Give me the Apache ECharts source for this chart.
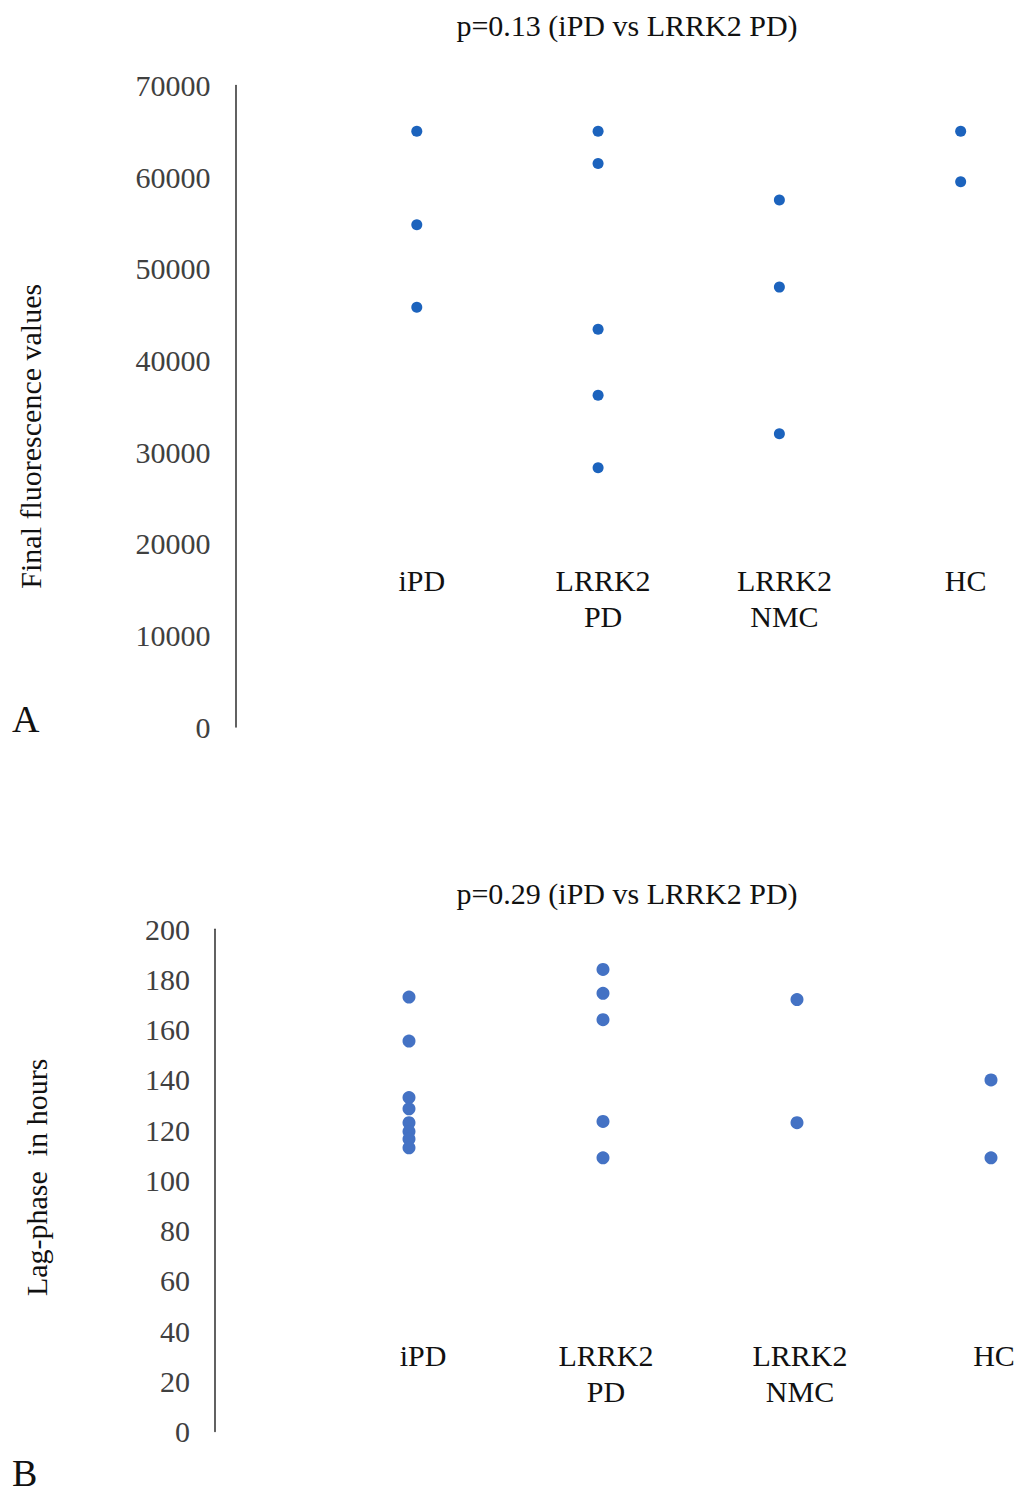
<!DOCTYPE html>
<html>
<head>
<meta charset="utf-8">
<script src="https://cdn.jsdelivr.net/npm/echarts@6/dist/echarts.min.js"></script>
<style>
html,body{margin:0;padding:0;background:#fff;}
#chart{width:1017px;height:1494px;}
</style>
</head>
<body>
<div id="chart"></div>
<script>
// ---- data ----
const categories = ['iPD', 'LRRK2\nPD', 'LRRK2\nNMC', 'HC'];
const titleA = 'p=0.13 (iPD vs LRRK2 PD)';
const titleB = 'p=0.29 (iPD vs LRRK2 PD)';
const yNameA = 'Final fluorescence values';
const yNameB = 'Lag-phase  in hours';

const fluorIPD = [65000, 54800, 45800];
const fluorLrrk2PD = [65000, 61500, 43400, 36200, 28300];
const fluorLrrk2NMC = [57500, 48000, 32000];
const fluorHC = [65000, 59500];

const lagIPD = [173, 155.5, 133, 128.5, 123, 119.5, 116.5, 113];
const lagLrrk2PD = [184, 174.5, 164, 123.5, 109];
const lagLrrk2NMC = [172, 123];
const lagHC = [140, 109];

const ticksA = [0, 10000, 20000, 30000, 40000, 50000, 60000, 70000];
const ticksB = [0, 20, 40, 60, 80, 100, 120, 140, 160, 180, 200];

// ---- build ----
function toPoints(groups) {
  const out = [];
  groups.forEach(function (vals, i) {
    vals.forEach(function (v) { out.push([i + 1, v]); });
  });
  return out;
}
const dataA = toPoints([fluorIPD, fluorLrrk2PD, fluorLrrk2NMC, fluorHC]);
const dataB = toPoints([lagIPD, lagLrrk2PD, lagLrrk2NMC, lagHC]);

const FONT = '"Liberation Serif", "Times New Roman", serif';
function makeCatFormatter(firstTag) {
  return function (v) {
    if (!(Number.isInteger(v) && v >= 1 && v <= categories.length)) return '';
    const name = categories[v - 1];
    return (v === 1 && firstTag) ? '{' + firstTag + '|' + name + '}' : name;
  };
}

function xAxisCfg(gridIndex, max, offset, pad, firstTag, firstPad) {
  const rich = {};
  if (firstTag) {
    rich[firstTag] = {fontFamily: FONT, fontSize: 30, lineHeight: 36, color: '#111', padding: firstPad};
  }
  return {
    type: 'value', gridIndex: gridIndex, min: 0, max: max, interval: 1,
    offset: offset,
    axisLine: {show: false}, axisTick: {show: false}, splitLine: {show: false},
    axisLabel: {
      formatter: makeCatFormatter(firstTag), margin: 0, fontFamily: FONT, fontSize: 30,
      lineHeight: 36, color: '#111', padding: pad, rich: rich,
      showMinLabel: false, showMaxLabel: false
    }
  };
}
function yAxisCfg(gridIndex, ticks, name, nameGap, namePad) {
  return {
    type: 'value', gridIndex: gridIndex,
    min: ticks[0], max: ticks[ticks.length - 1], interval: ticks[1] - ticks[0],
    axisLine: {show: true, lineStyle: {color: '#3a3a3a', width: 1.6}},
    axisTick: {show: false}, splitLine: {show: false},
    axisLabel: {margin: 25, fontFamily: FONT, fontSize: 30, color: '#404040',
      formatter: function (v) { return String(v); }},
    name: name, nameLocation: 'middle', nameGap: nameGap,
    nameTextStyle: {fontFamily: FONT, fontSize: 30, color: '#111', padding: namePad}
  };
}

const chart = echarts.init(document.getElementById('chart'), null, {renderer: 'svg'});
chart.setOption({
  backgroundColor: '#fff',
  animation: false,
  title: [
    {text: titleA, left: 627, top: 10, textAlign: 'center', padding: 0,
     textStyle: {fontFamily: FONT, fontSize: 30, fontWeight: 'normal', color: '#111'}},
    {text: titleB, left: 627, top: 878, textAlign: 'center', padding: 0,
     textStyle: {fontFamily: FONT, fontSize: 30, fontWeight: 'normal', color: '#111'}},
    {text: 'A', left: 12, top: 700, padding: 0,
     textStyle: {fontFamily: FONT, fontSize: 38, lineHeight: 38, fontWeight: 'normal', color: '#111'}},
    {text: 'B', left: 12, top: 1455, padding: 0,
     textStyle: {fontFamily: FONT, fontSize: 38, lineHeight: 36, fontWeight: 'normal', color: '#111'}}
  ],
  grid: [
    {left: 235.5, top: 85.5, width: 770.5, height: 641.5, outerBoundsMode: 'none', containLabel: false},
    {left: 215, top: 929.3, width: 795.4, height: 502.2, outerBoundsMode: 'none', containLabel: false}
  ],
  xAxis: [
    xAxisCfg(0, 4.25, -165, [0, 0, 0, 10], null, null),
    xAxisCfg(1, 4.1, -94.5, [0, 0, 0, 6], 'first', [0, 0, 0, 22])
  ],
  yAxis: [
    yAxisCfg(0, ticksA, yNameA, 190, [0, 60, 0, 0]),
    yAxisCfg(1, ticksB, yNameB, 164, [0, 0, 0, 6])
  ],
  series: [
    {type: 'scatter', xAxisIndex: 0, yAxisIndex: 0, data: dataA, symbolSize: 11,
     itemStyle: {color: '#1c63bd', opacity: 1}, clip: false},
    {type: 'scatter', xAxisIndex: 1, yAxisIndex: 1, data: dataB, symbolSize: 13,
     itemStyle: {color: '#4472c4', opacity: 1}, clip: false}
  ]
});
</script>
</body>
</html>
